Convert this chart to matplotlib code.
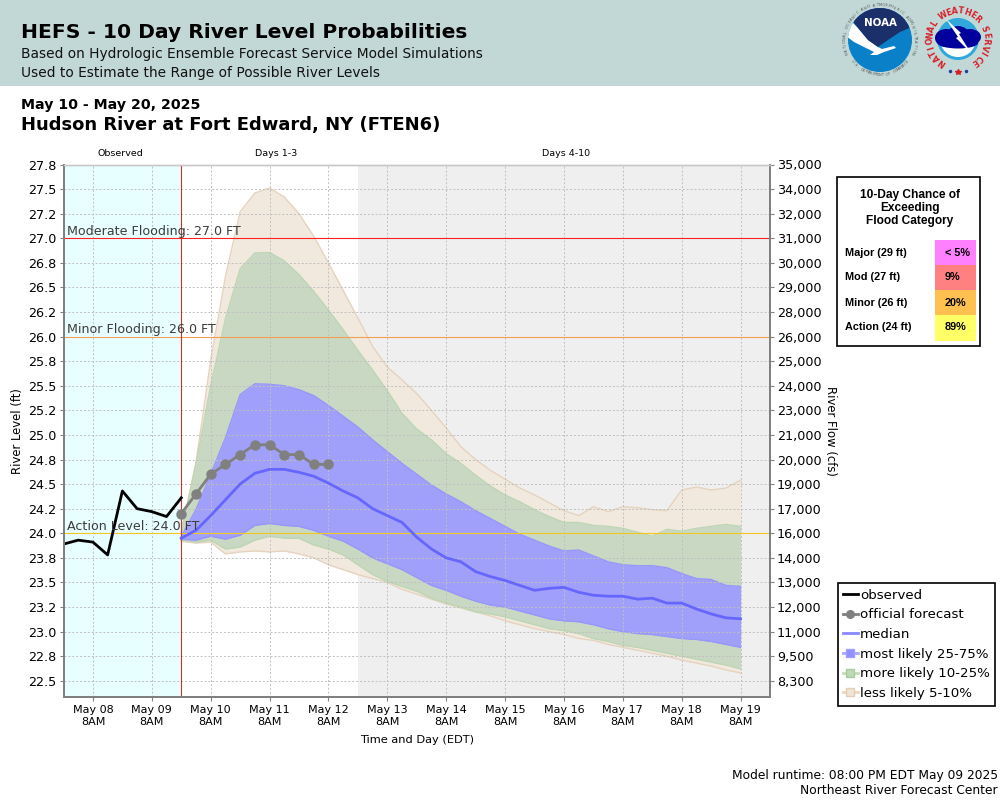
import matplotlib
matplotlib.use("Agg")
import matplotlib.pyplot as plt
import matplotlib.dates as mdates
from matplotlib.lines import Line2D
from matplotlib.patches import Circle, Ellipse, Polygon, Rectangle, Wedge
import numpy as np
import pandas as pd

observed = [23.89, 23.93, 23.91, 23.78, 24.43, 24.25, 24.22, 24.17, 24.36]
official = [24.2, 24.4, 24.6, 24.7, 24.8, 24.9, 24.9, 24.8, 24.8, 24.7, 24.7]

median = [23.95, 24.03, 24.18, 24.34, 24.5, 24.61, 24.65, 24.65, 24.62, 24.58,
          24.51, 24.43, 24.36, 24.25, 24.18, 24.11, 23.96, 23.84, 23.75, 23.71,
          23.61, 23.56, 23.52, 23.47, 23.42, 23.44, 23.45, 23.40, 23.37, 23.36,
          23.36, 23.33, 23.34, 23.29, 23.29, 23.23, 23.18, 23.14, 23.13]
p75 = [23.97, 24.24, 24.6, 24.97, 25.41, 25.52, 25.515, 25.5, 25.46, 25.4,
       25.3, 25.19, 25.08, 24.95, 24.83, 24.71, 24.6, 24.49, 24.4, 24.32,
       24.23, 24.15, 24.07, 23.99, 23.93, 23.87, 23.82, 23.83, 23.77, 23.71,
       23.68, 23.67, 23.67, 23.65, 23.59, 23.54, 23.53, 23.47, 23.46]
p25 = [23.94, 23.93, 23.97, 23.94, 23.98, 24.08, 24.10, 24.08, 24.07, 24.03,
       23.97, 23.92, 23.84, 23.75, 23.69, 23.63, 23.55, 23.47, 23.42, 23.36,
       23.31, 23.27, 23.25, 23.21, 23.17, 23.13, 23.11, 23.10, 23.07, 23.03,
       23.0, 22.98, 22.97, 22.95, 22.93, 22.92, 22.9, 22.87, 22.84]
p90 = [24.0, 24.7, 25.5, 26.18, 26.69, 26.85, 26.855, 26.77, 26.63, 26.46,
       26.27, 26.07, 25.86, 25.66, 25.45, 25.22, 25.06, 24.95, 24.81, 24.71,
       24.59, 24.48, 24.39, 24.32, 24.24, 24.17, 24.11, 24.11, 24.08, 24.07,
       24.05, 24.01, 23.97, 24.04, 24.02, 24.05, 24.07, 24.09, 24.07]
p10 = [23.93, 23.91, 23.93, 23.84, 23.86, 23.93, 23.97, 23.95, 23.95, 23.88,
       23.84, 23.78, 23.68, 23.58, 23.51, 23.46, 23.41, 23.34, 23.29, 23.25,
       23.2, 23.18, 23.15, 23.11, 23.07, 23.03, 23.01, 22.98, 22.93, 22.9,
       22.86, 22.84, 22.81, 22.78, 22.75, 22.72, 22.69, 22.66, 22.62]
p95 = [24.02, 24.72, 25.76, 26.61, 27.27, 27.46, 27.51, 27.42, 27.25, 27.02,
       26.75, 26.47, 26.19, 25.9, 25.69, 25.56, 25.42, 25.25, 25.07, 24.88,
       24.75, 24.64, 24.55, 24.46, 24.39, 24.31, 24.23, 24.18, 24.27, 24.22,
       24.27, 24.26, 24.24, 24.23, 24.44, 24.47, 24.44, 24.46, 24.54]
p05 = [23.92, 23.9, 23.91, 23.79, 23.81, 23.82, 23.81, 23.82, 23.79, 23.75,
       23.68, 23.63, 23.58, 23.54, 23.5, 23.43, 23.38, 23.33, 23.28, 23.24,
       23.2, 23.16, 23.11, 23.07, 23.03, 23.0, 22.97, 22.93, 22.91, 22.87,
       22.84, 22.81, 22.78, 22.75, 22.71, 22.68, 22.65, 22.61, 22.58]

level_ticks = [27.75, 27.5, 27.25, 27.0, 26.75, 26.5, 26.25, 26.0, 25.75, 25.5, 25.25,
               25.0, 24.75, 24.5, 24.25, 24.0, 23.75, 23.5, 23.25, 23.0, 22.75, 22.5]
level_labels = ["27.8", "27.5", "27.2", "27.0", "26.8", "26.5", "26.2", "26.0", "25.8", "25.5", "25.2",
                "25.0", "24.8", "24.5", "24.2", "24.0", "23.8", "23.5", "23.2", "23.0", "22.8", "22.5"]
flow_labels = ["35,000", "34,000", "32,000", "31,000", "30,000", "29,000", "28,000", "26,000",
               "25,000", "24,000", "23,000", "21,000", "20,000", "19,000", "17,000", "16,000",
               "14,000", "13,000", "12,000", "11,000", "9,500", "8,300"]

flood_levels = [27.0, 26.0, 24.0]
flood_names = ["Moderate Flooding: 27.0 FT", "Minor Flooding: 26.0 FT", "Action Level: 24.0 FT"]
flood_colors = ["#FF2020", "#F0A050", "#F2C81E"]

chance_names = ["Major (29 ft)", "Mod (27 ft)", "Minor (26 ft)", "Action (24 ft)"]
chance_values = ["< 5%", "9%", "20%", "89%"]
chance_colors = ["#FF80FF", "#FF8080", "#FFC050", "#FFFF66"]

obs_times = pd.date_range("2025-05-07 20:00", periods=len(observed), freq="6h")
off_times = pd.date_range("2025-05-09 20:00", periods=len(official), freq="6h")
ens_times = pd.date_range("2025-05-09 20:00", periods=len(median), freq="6h")

BLUE, BLUE_EDGE = "#A0A0FA", "#9696FC"
GREEN, GREEN_EDGE = "#C9D8C3", "#BDD6B3"
BEIGE, BEIGE_EDGE = "#F1E9DE", "#E6D3BE"
GRID = "#C0C0C0"
AXIS = "#808080"

fig = plt.figure(figsize=(10, 8), dpi=100)
ax = fig.add_axes([63.5 / 1000, 103 / 800, 706.5 / 1000, 532.5 / 800])

ax.axvspan(pd.Timestamp("2025-05-07 20:00"), pd.Timestamp("2025-05-09 20:00"), color="#E8FFFF", lw=0, zorder=0)
ax.axvspan(pd.Timestamp("2025-05-12 20:00"), pd.Timestamp("2025-05-19 20:00"), color="#EFEFEF", lw=0, zorder=0)

ax.fill_between(ens_times, p05, p95, color=BEIGE, lw=0, zorder=1)
ax.plot(ens_times, p95, color=BEIGE_EDGE, lw=1.0, zorder=1.1)
ax.plot(ens_times, p05, color=BEIGE_EDGE, lw=1.0, zorder=1.1)
ax.fill_between(ens_times, p10, p90, color=GREEN, lw=0, zorder=1.2)
ax.plot(ens_times, p90, color=GREEN_EDGE, lw=1.0, zorder=1.3)
ax.plot(ens_times, p10, color=GREEN_EDGE, lw=1.0, zorder=1.3)
ax.fill_between(ens_times, p25, p75, color=BLUE, lw=0, zorder=1.4)
ax.plot(ens_times, p75, color=BLUE_EDGE, lw=1.0, zorder=1.5)
ax.plot(ens_times, p25, color=BLUE_EDGE, lw=1.0, zorder=1.5)

ax.grid(True, color=GRID, ls=(0, (2, 2)), lw=0.7, zorder=1.8)
ax.set_axisbelow(False)
for line in ax.get_xgridlines() + ax.get_ygridlines():
    line.set_zorder(1.8)

for level, name, color in zip(flood_levels, flood_names, flood_colors):
    ax.axhline(level, color=color, lw=0.8, zorder=3)
    ax.text(pd.Timestamp("2025-05-07 21:30"), level + 0.005, name, fontsize=9.1, color="#3C3C3C",
            va="bottom", ha="left", zorder=6)

ax.axvline(pd.Timestamp("2025-05-09 20:00"), color="#D03030", lw=0.8, zorder=3)

ax.plot(ens_times, median, color="#6666FF", lw=2, zorder=4)
ax.plot(obs_times, observed, color="black", lw=2, zorder=5)
ax.plot(off_times, official, color="#808080", lw=2, marker="o", ms=6.5, zorder=5)

ax.set_xlim(pd.Timestamp("2025-05-07 20:00"), pd.Timestamp("2025-05-19 20:00"))
ax.set_ylim(22.335, 27.75)
ax.set_yticks(level_ticks)
ax.set_yticklabels(level_labels)
ax.xaxis.set_major_locator(mdates.HourLocator(byhour=[8]))
ax.xaxis.set_major_formatter(mdates.DateFormatter("%b %d\n%-I%p"))
ax.tick_params(axis="x", labelsize=8, length=3, width=0.8, color=AXIS, pad=3)
ax.tick_params(axis="y", labelsize=9.2, length=3, width=0.8, color=AXIS, pad=2)

ax2 = ax.twinx()
ax2.set_ylim(ax.get_ylim())
ax2.set_yticks(level_ticks)
ax2.set_yticklabels(flow_labels)
ax2.tick_params(axis="y", labelsize=9.2, length=3, width=0.8, color=AXIS, pad=2)

for a in (ax, ax2):
    for side in ("left", "bottom", "right"):
        a.spines[side].set_color(AXIS)
        a.spines[side].set_linewidth(1.4)
    a.spines["top"].set_color("#C8C8C8")
    a.spines["top"].set_linewidth(1.0)

# everything outside the plot is placed in pixels on this overlay
ov = fig.add_axes([0, 0, 1, 1], zorder=10)
ov.set_xlim(0, 1000)
ov.set_ylim(800, 0)
ov.axis("off")
ov.patch.set_alpha(0)

ov.add_patch(Rectangle((0, 0), 1000, 86, color="#C2D8D6", lw=0))
ov.text(21, 33, "HEFS - 10 Day River Level Probabilities", fontsize=14.6, fontweight="bold", va="center")
ov.text(21, 54, "Based on Hydrologic Ensemble Forecast Service Model Simulations", fontsize=9.95, va="center", color="#111111")
ov.text(21, 73, "Used to Estimate the Range of Possible River Levels", fontsize=9.95, va="center", color="#111111")
ov.text(21, 105, "May 10 - May 20, 2025", fontsize=10.2, fontweight="bold", va="center")
ov.text(21, 125, "Hudson River at Fort Edward, NY (FTEN6)", fontsize=13, fontweight="bold", va="center")

ov.text(120, 154, "Observed", fontsize=6.8, ha="center", va="center")
ov.text(276.5, 154, "Days 1-3", fontsize=6.8, ha="center", va="center")
ov.text(566, 154, "Days 4-10", fontsize=6.8, ha="center", va="center")
ov.text(18, 431, "River Level (ft)", fontsize=8.4, rotation=90, ha="center", va="center")
ov.text(831, 431, "River Flow (cfs)", fontsize=8.4, rotation=270, ha="center", va="center")
ov.text(417, 740, "Time and Day (EDT)", fontsize=8.2, ha="center", va="center")
ov.text(998, 775, "Model runtime: 08:00 PM EDT May 09 2025", fontsize=8.85, ha="right", va="center")
ov.text(998, 791, "Northeast River Forecast Center", fontsize=8.85, ha="right", va="center")

# chance box
ov.add_patch(Rectangle((836.5, 176.5), 143.5, 169, fc="white", ec="black", lw=1.2))
for i, line in enumerate(["10-Day Chance of", "Exceeding", "Flood Category"]):
    ov.text(910, 195 + i * 13, line, family="Liberation Sans", fontweight="bold", fontsize=8.6, ha="center", va="center")
for i, (name, value, color) in enumerate(zip(chance_names, chance_values, chance_colors)):
    top = 240 + i * 25
    ov.add_patch(Rectangle((935, top), 41, 25.5, color=color, lw=0))
    ov.text(845, top + 12.5, name, family="Liberation Sans", fontweight="bold", fontsize=7.8, va="center")
    ov.text(945, top + 12.5, value, family="Liberation Sans", fontweight="bold", fontsize=7.8, va="center")

# legend
handles = [
    Line2D([], [], color="black", lw=2),
    Line2D([], [], color="#808080", lw=2, marker="o", ms=5.5),
    Line2D([], [], color="#8888FF", lw=2),
    Line2D([], [], color="#A8A8FF", lw=2, marker="s", ms=5.5, mfc="#9090FF", mec="#A0A0FF"),
    Line2D([], [], color="#C4DCBA", lw=2, marker="s", ms=5.5, mfc="#BDD8B4", mec="#A8CC9C"),
    Line2D([], [], color="#EBD6C0", lw=2, marker="s", ms=5.5, mfc="#F1E4D6", mec="#E3CDB4"),
]
labels = ["observed", "official forecast", "median", "most likely 25-75%", "more likely 10-25%", "less likely 5-10%"]
leg = ov.legend(handles, labels, loc="upper left", bbox_to_anchor=(837.5 / 1000, 1 - 583 / 800),
                bbox_transform=fig.transFigure, borderaxespad=0, fontsize=9.6, frameon=True, fancybox=False,
                edgecolor="black", framealpha=1, labelspacing=0.5, handlelength=1.1, handletextpad=0.15,
                borderpad=0.42)
leg.get_frame().set_linewidth(1.2)


def arc_text(text, cx, cy, r, start, end, bottom=False, **kw):
    # angles in degrees clockwise from the top of the circle
    for ch, th in zip(text, np.linspace(start, end, len(text))):
        t = np.radians(th)
        rot = 180 - th if bottom else -th
        ov.text(cx + r * np.sin(t), cy - r * np.cos(t), ch, rotation=rot, rotation_mode="anchor",
                ha="center", va="center", **kw)


def offset_poly(cx, cy, pts, color, clip=None):
    p = Polygon([(cx + dx, cy + dy) for dx, dy in pts], color=color, lw=0)
    ov.add_patch(p)
    if clip is not None:
        p.set_clip_path(clip)
    return p


# NOAA logo
nx, ny = 880, 40
disc = Circle((nx, ny), 32, color="#0A80C8", lw=0)
ov.add_patch(disc)
offset_poly(nx, ny, [(-34, -24), (-22, -12), (-12, 0), (-2, 7), (2, 9), (14, 6), (16, 8), (4, 12), (-3, 15),
                     (-10, 15), (-6, 12), (-16, 7), (-26, 2), (-34, -4)], "white", clip=disc)
offset_poly(nx, ny, [(-34, -34), (34, -34), (34, -14), (20, -8), (8, 0), (-2, 7), (-12, 0), (-22, -12),
                     (-28, -20), (-34, -22)], "#1B2F6B", clip=disc)
ov.text(nx, ny - 17, "NOAA", color="white", fontweight="bold", fontsize=7.4, ha="center", va="center")
arc_text("NATIONAL OCEANIC AND ATMOSPHERIC ADMINISTRATION", nx, ny, 35, -112, 112, color="#555555", fontsize=2.6)
arc_text("U.S. DEPARTMENT OF COMMERCE", nx, ny, 35, 232, 128, bottom=True, color="#555555", fontsize=2.6)

# NWS logo
wx, wy = 958, 39
ov.add_patch(Circle((wx, wy), 21, color="#30A8DC", lw=0))
ov.add_patch(Wedge((wx, wy), 18, 15, 165, color="white", lw=0))
for dx, dy, w, h in [(-12, -1, 22, 18), (0, -4, 22, 18), (12, -2, 22, 16), (0, 4, 40, 11)]:
    ov.add_patch(Ellipse((wx + dx, wy + dy), w, h, color="#00009C", lw=0))
offset_poly(wx, wy, [(-12, -20), (3, -6), (1, -5), (13, 14), (-2, -1), (0, -2)], "white")
arc_text("NATIONAL WEATHER SERVICE", wx, wy, 28, -145, 145, color="#D81E28", fontweight="bold", fontsize=5.8)
ov.plot([wx - 8, wx + 8], [wy + 32, wy + 32], ls="", marker="o", ms=1.5, color="#2040A0")
ov.plot([wx], [wy + 33], ls="", marker="*", ms=4, color="#D81E28")

fig.savefig("out.png", dpi=100)
